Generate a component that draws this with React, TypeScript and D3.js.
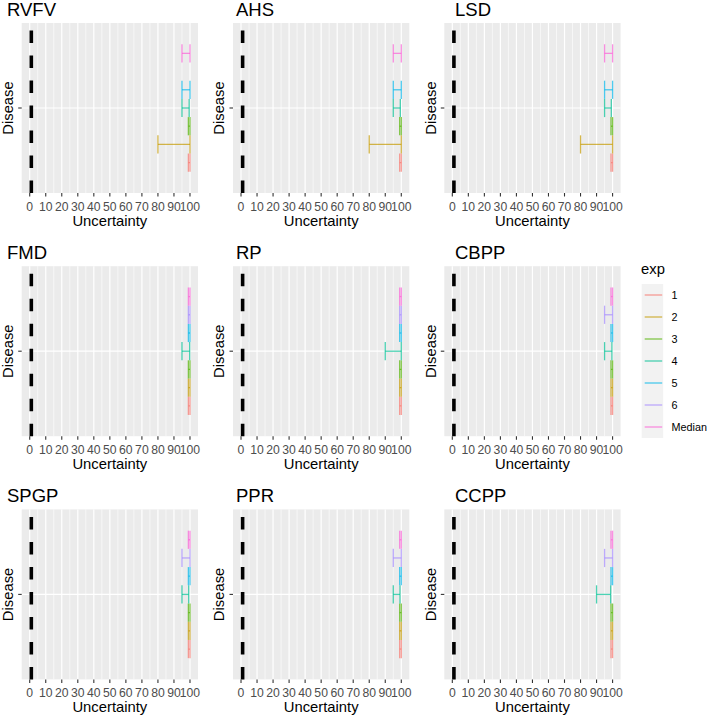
import React from "react";
import * as d3 from "d3";

const diseases = ["RVFV", "AHS", "LSD", "FMD", "RP", "CBPP", "SPGP", "PPR", "CCPP"];
const expLevels = ["1", "2", "3", "4", "5", "6", "Median"];
const expColors = ["#F8766D", "#C49A00", "#53B400", "#00C094", "#00B6EB", "#A58AFF", "#FB61D7"];
const xTickValues = [0, 10, 20, 30, 40, 50, 60, 70, 80, 90, 100];
const xMinorValues = [5, 15, 25, 35, 45, 55, 65, 75, 85, 95];
const refLine = 1;

// lower / upper uncertainty per exp (1..6, Median)
const lowRVFV = [99, 80, 99, 95, 95, null, 95];
const highRVFV = [100, 100, 100, 99.5, 100, null, 100];
const lowAHS = [99, 80, 99, 95, 95, null, 95];
const highAHS = [100, 100, 100, 99.4, 100, null, 100];
const lowLSD = [99, 80, 99, 95, 95, null, 95];
const highLSD = [100, 100, 100, 99.2, 100, null, 100];
const lowFMD = [99, 99, 99, 95, 99, 99, 99];
const highFMD = [100, 100, 100, 99.8, 100, 100, 100];
const lowRP = [99, 99, 99, 90, 99, 99, 99];
const highRP = [100, 100, 100, 100, 100, 100, 100];
const lowCBPP = [99, 99, 99, 95, 99, 95, 99];
const highCBPP = [100, 100, 100, 99.6, 100, 100, 100];
const lowSPGP = [99, 99, 99, 95, 99, 95, 99];
const highSPGP = [100, 100, 100, 99.2, 100, 100, 100];
const lowPPR = [99, 99, 99, 95, 99, 95, 99];
const highPPR = [100, 100, 100, 99.2, 100, 100, 100];
const lowCCPP = [99, 99, 99, 90, 99, 95, 99];
const highCCPP = [100, 100, 100, 98.8, 100, 100, 100];

const lows = [lowRVFV, lowAHS, lowLSD, lowFMD, lowRP, lowCBPP, lowSPGP, lowPPR, lowCCPP];
const highs = [highRVFV, highAHS, highLSD, highFMD, highRP, highCBPP, highSPGP, highPPR, highCCPP];

const W = 709;
const H = 716;
const FONT = "'Liberation Sans', Arial, sans-serif";
const colStep = 211.3;
const rowStep = 243.2;
const titleX = [7, 236, 455];
const ALPHA = 0.7;

function Panel({ idx }: { idx: number }) {
  const c = idx % 3;
  const r = Math.floor(idx / 3);
  const ox = c * colStep;
  const oy = r * rowStep;
  const left = ox + 21.7;
  const right = ox + 198;
  const top = oy + 23;
  const bottom = oy + 193;
  const x = d3.scaleLinear().domain([-5, 105]).range([left, right]);
  const y = d3.scaleLinear().domain([0.4, 1.6]).range([bottom, top]);
  const band = d3.scaleBand<string>().domain(expLevels).range([y(1 - 0.45), y(1 + 0.45)]).paddingInner(0);
  const bw = band.bandwidth();
  const lo = lows[idx];
  const hi = highs[idx];
  return (
    <g>
      <text x={titleX[c]} y={oy + 15.5} fontSize={18.5} fill="#000" fontFamily={FONT}>{diseases[idx]}</text>
      <rect x={left} y={top} width={right - left} height={bottom - top} fill="#EBEBEB" />
      {xMinorValues.map((v) => (
        <line key={"m" + v} x1={x(v)} x2={x(v)} y1={top} y2={bottom} stroke="#fff" strokeWidth={0.6} />
      ))}
      {xTickValues.map((v) => (
        <line key={"g" + v} x1={x(v)} x2={x(v)} y1={top} y2={bottom} stroke="#fff" strokeWidth={1.2} />
      ))}
      <line x1={left} x2={right} y1={y(1)} y2={y(1)} stroke="#fff" strokeWidth={1.2} />
      <line x1={x(refLine)} x2={x(refLine)} y1={bottom} y2={top} stroke="#000" strokeWidth={3.6} strokeDasharray="12.5 12.5" />
      {expLevels.map((e, i) => {
        const a = lo[i];
        const b = hi[i];
        if (a == null || b == null) return null;
        const cy = (band(e) as number) + bw / 2;
        const col = expColors[i];
        return (
          <g key={e} stroke={col} strokeOpacity={ALPHA} strokeWidth={1.3}>
            <line x1={x(a)} x2={x(b)} y1={cy} y2={cy} />
            <line x1={x(a)} x2={x(a)} y1={cy - bw / 2} y2={cy + bw / 2} />
            <line x1={x(b)} x2={x(b)} y1={cy - bw / 2} y2={cy + bw / 2} />
          </g>
        );
      })}
      {xTickValues.map((v) => (
        <g key={"t" + v}>
          <line x1={x(v)} x2={x(v)} y1={bottom} y2={bottom + 3.5} stroke="#333" strokeWidth={1.1} />
          <text x={x(v)} y={bottom + 18} fontSize={12.2} fill="#4D4D4D" textAnchor="middle" fontFamily={FONT}>{v}</text>
        </g>
      ))}
      <line x1={left - 3.5} x2={left} y1={y(1)} y2={y(1)} stroke="#333" strokeWidth={1.1} />
      <text x={(left + right) / 2} y={bottom + 32.5} fontSize={14.8} fill="#000" textAnchor="middle" fontFamily={FONT}>Uncertainty</text>
      <text transform={`translate(${ox + 13},${y(1)}) rotate(-90)`} fontSize={14.8} fill="#000" textAnchor="middle" fontFamily={FONT}>Disease</text>
    </g>
  );
}

function Legend() {
  const lx = 641.7;
  const keyW = 21.5;
  const keyTop = 284;
  const ky = d3.scaleBand<string>().domain(expLevels).range([keyTop, keyTop + 22 * expLevels.length]);
  return (
    <g>
      <text x={641} y={274} fontSize={14.8} fill="#000" fontFamily={FONT}>exp</text>
      {expLevels.map((e, i) => {
        const yy = ky(e) as number;
        const cy = yy + ky.bandwidth() / 2;
        return (
          <g key={e}>
            <rect x={lx} y={yy} width={keyW} height={ky.bandwidth()} fill="#F2F2F2" />
            <line x1={lx + 3} x2={lx + keyW - 1} y1={cy} y2={cy} stroke={expColors[i]} strokeOpacity={ALPHA} strokeWidth={1.3} />
            <text x={671.5} y={cy + 4} fontSize={10.8} fill="#000" fontFamily={FONT}>{e}</text>
          </g>
        );
      })}
    </g>
  );
}

export default function App() {
  return (
    <svg width={W} height={H} style={{ position: "absolute", left: 0, top: 0, background: "#fff" }}>
      <rect x={0} y={0} width={W} height={H} fill="#fff" />
      {diseases.map((d, i) => (
        <Panel key={d} idx={i} />
      ))}
      <Legend />
    </svg>
  );
}
